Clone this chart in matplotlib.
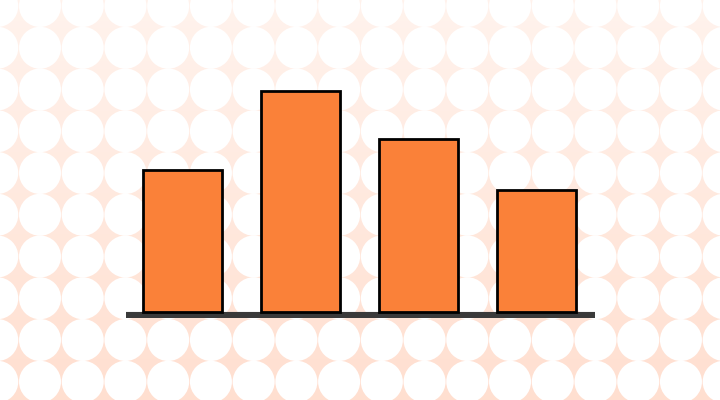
import matplotlib
matplotlib.use("Agg")
import matplotlib.pyplot as plt
import numpy as np
from matplotlib.patches import Ellipse
from matplotlib.colors import LinearSegmentedColormap

# ---- data ----
categories = ["A", "B", "C", "D"]
values = [64, 100, 78, 55]

W, H = 720, 400
fig = plt.figure(figsize=(W / 100, H / 100), dpi=100)

# ---- decorative background: vertical gradient + white dots ----
bg = fig.add_axes([0, 0, 1, 1])
bg.set_xlim(0, W)
bg.set_ylim(H, 0)
bg.axis("off")
cmap = LinearSegmentedColormap.from_list("bg", ["#fff3ed", "#ffdfd0"])
grad = np.linspace(0, 1, 256).reshape(-1, 1)
bg.imshow(grad, cmap=cmap, extent=[0, W, H, 0], aspect="auto", zorder=0)
px, py = 42.73, 41.75
x0, y0 = 40.0, 6.0
r = 21.0
for i in range(-2, 20):
    for j in range(-1, 12):
        cx = x0 + i * px
        cy = y0 + j * py
        bg.add_patch(Ellipse((cx, cy), 2 * r, 2 * r, facecolor="white",
                             edgecolor="none", zorder=1))

# ---- chart ----
ax = fig.add_axes([126 / W, (H - 318) / H, (595 - 126) / W, (318 - 40) / H])
ax.patch.set_alpha(0)
x = np.arange(len(categories))
ax.set_xlim(-0.481, 3.493)
ax.set_ylim(-2.71, 122.8)
ax.axhline(-1.355, color="#3a3a3a", linewidth=4.4, solid_capstyle="butt", zorder=1)
ax.bar(x, values, width=0.672, color="#fa8139", edgecolor="black",
       linewidth=2.0, zorder=2)
ax.axis("off")

fig.savefig("out.png", dpi=100)
